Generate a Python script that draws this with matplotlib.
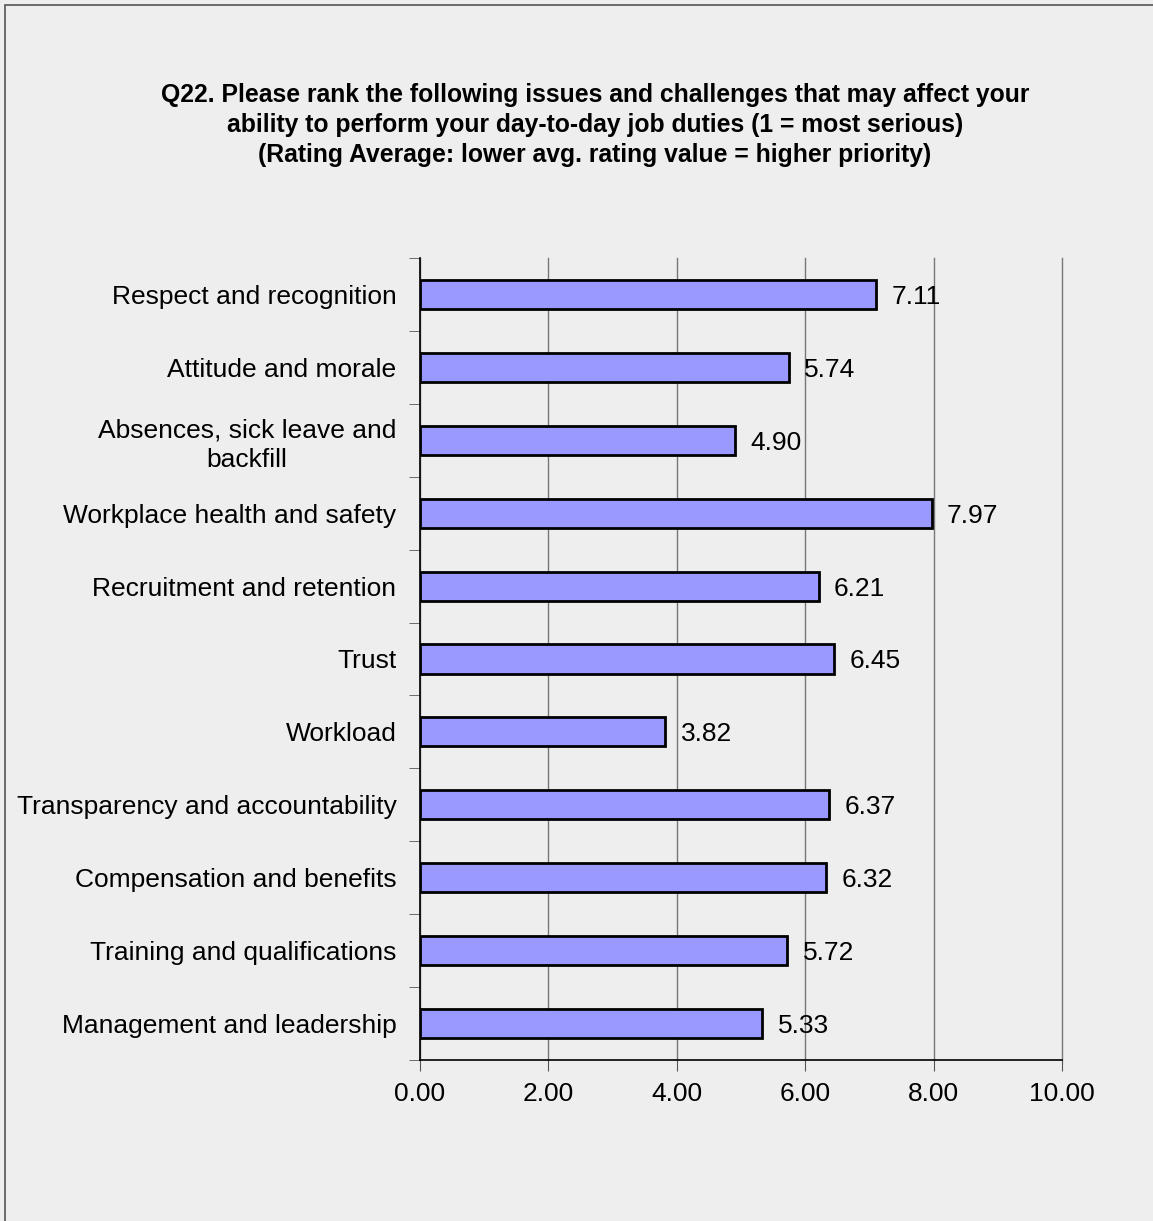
import matplotlib
matplotlib.use('Agg')
import matplotlib.pyplot as plt
from matplotlib.patches import Rectangle

# data, top to bottom as in the chart
categories = ['Respect and recognition', 'Attitude and morale',
              'Absences, sick leave and\nbackfill', 'Workplace health and safety',
              'Recruitment and retention', 'Trust', 'Workload',
              'Transparency and accountability', 'Compensation and benefits',
              'Training and qualifications', 'Management and leadership']
values = [7.11, 5.74, 4.90, 7.97, 6.21, 6.45, 3.82, 6.37, 6.32, 5.72, 5.33]
xticks = [0, 2, 4, 6, 8, 10]

title = ('Q22. Please rank the following issues and challenges that may affect your\n'
         'ability to perform your day-to-day job duties (1 = most serious)\n'
         '(Rating Average: lower avg. rating value = higher priority)')

plt.rcParams['font.family'] = ['Liberation Sans', 'DejaVu Sans']
bg = '#eeeeee'
fs = 19

fig = plt.figure(figsize=(11.53, 12.21), dpi=100, facecolor=bg)
ax = fig.add_axes([420/1153, 1 - 1060/1221, 642/1153, 802/1221])
ax.set_facecolor(bg)

# frame around the chart area (left and top visible)
fig.patches.append(Rectangle((5/1153, -0.1), 1.2, 1 - 5/1221 + 0.1,
                             transform=fig.transFigure, fill=False,
                             edgecolor='#555555', linewidth=1.2))

n = len(categories)
pos = list(range(n))
ax.barh(pos, values, height=0.4, color='#9999ff', edgecolor='black', linewidth=2, zorder=3)
for p, v in zip(pos, values):
    ax.text(v + 0.24, p, f'{v:.2f}', va='center_baseline', ha='left', fontsize=fs, zorder=4)

ax.set_ylim(n - 0.5, -0.5)
ax.set_xlim(0, 10)
ax.set_xticks(xticks)
ax.set_xticklabels([f'{t:.2f}' for t in xticks], fontsize=fs)
ax.set_yticks(pos)
ax.set_yticklabels(categories, fontsize=fs, linespacing=1.3)
ax.tick_params(axis='y', length=0, pad=17)
ax.set_yticks([p - 0.5 for p in range(n + 1)], minor=True)
ax.tick_params(axis='y', which='minor', length=8, color='#555555', direction='out')
ax.tick_params(axis='x', length=8, color='#555555', pad=8)
for lbl in ax.get_yticklabels():
    lbl.set_multialignment('center')

ax.grid(axis='x', color='#777777', linewidth=1, zorder=0)
for gl in ax.get_xgridlines():
    gl.set_clip_on(False)
ax.spines['top'].set_visible(False)
ax.spines['right'].set_visible(False)
ax.spines['left'].set_linewidth(1.2)
ax.spines['bottom'].set_linewidth(1.2)

fig.text(595/1153, 1 - 125/1221, title, ha='center', va='center', fontsize=17.8,
         fontweight='bold', family=['Liberation Sans Narrow', 'Liberation Sans', 'DejaVu Sans'],
         linespacing=1.3)

fig.savefig('out.png', dpi=100, facecolor=bg)
